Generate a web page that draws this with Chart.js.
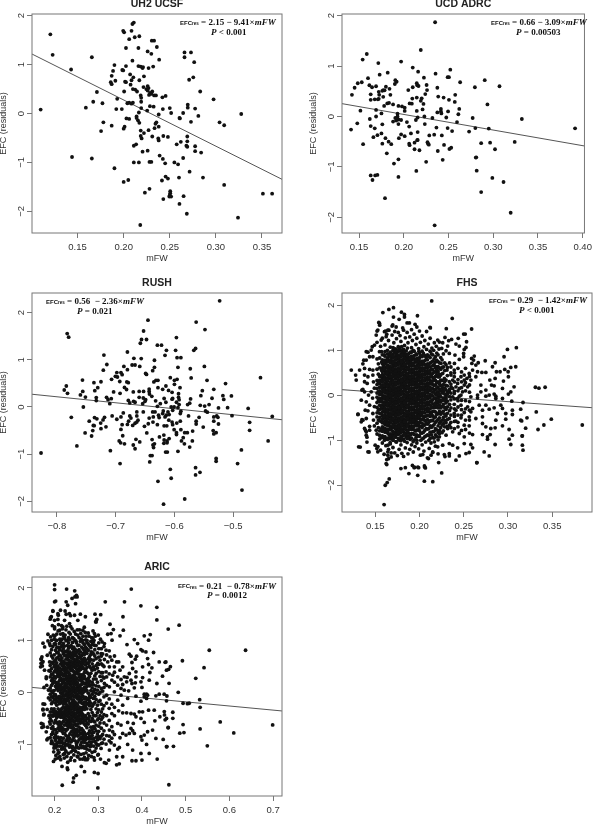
<!DOCTYPE html>
<html>
<head>
<meta charset="utf-8">
<script src="https://cdn.jsdelivr.net/npm/chart.js@4"></script>
<style>
  html, body { margin: 0; padding: 0; background: #fff; }
  #page { position: relative; width: 600px; height: 825px; overflow: hidden; }
  canvas { position: absolute; }
</style>
</head>
<body>
<div id="page"></div>
<script>
// values, [mFW, EFC residual]
const uh2Points = [[.1205,1.62],[.123,1.2],[.11,.08],[.143,.9],[.1655,1.15],[.171,.44],[.167,.24],[.159,.12],[.177,.21],[.178,-.18],[.1755,-.36],[.187,-.25],[.144,-.89],[.1655,-.92],[.19,-1.12],[.2,-1.4],[.205,-1.36],[.1995,1.69],[.2005,1.66],[.2085,1.69],[.2095,1.83],[.211,1.86],[.206,1.52],[.212,1.56],[.217,1.58],[.2025,1.34],[.216,1.34],[.2305,1.49],[.233,1.49],[.236,1.36],[.226,1.27],[.23,1.22],[.2385,1.1],[.2095,1.08],[.19,.99],[.2025,.97],[.1885,.87],[.1985,.89],[.1995,.88],[.216,.97],[.2185,.96],[.2205,.93],[.221,.95],[.227,.93],[.232,.96],[.207,.8],[.2105,.74],[.187,.77],[.2085,.68],[.217,.68],[.222,.76],[.191,.67],[.2015,.65],[.2025,.64],[.186,.64],[.187,.6],[.2075,.59],[.2005,.45],[.21,.5],[.2125,.49],[.2145,.45],[.2215,.54],[.226,.56],[.227,.52],[.2245,.5],[.226,.47],[.231,.45],[.2285,.42],[.2275,.38],[.23,.4],[.233,.37],[.235,.37],[.2185,.37],[.219,.32],[.219,.24],[.242,.33],[.2455,.36],[.193,.3],[.204,.21],[.206,.22],[.21,.22],[.2085,.2],[.198,.09],[.192,.09],[.219,.11],[.2285,.15],[.2325,.14],[.2255,.06],[.2165,.02],[.2425,.09],[.25,.11],[.2515,.01],[.238,-.02],[.214,-.06],[.203,-.1],[.206,-.11],[.214,-.09],[.2155,-.14],[.217,-.19],[.2355,-.18],[.2345,-.21],[.2335,-.3],[.238,-.27],[.201,-.27],[.2,-.31],[.2185,-.35],[.227,-.34],[.222,-.4],[.2185,-.46],[.2195,-.51],[.231,-.47],[.2375,-.51],[.238,-.55],[.243,-.46],[.248,-.48],[.211,-.66],[.2135,-.63],[.226,-.76],[.2205,-.78],[.211,-1],[.2165,-1],[.228,-.99],[.23,-.99],[.239,-.86],[.2425,-.93],[.245,-1.02],[.255,-1],[.259,-1.04],[.2415,-1.37],[.2455,-1.29],[.248,-1.33],[.26,-1.31],[.2715,-1.19],[.286,-1.31],[.2645,-.91],[.284,-.8],[.2775,-.77],[.2775,-.67],[.268,-.66],[.269,-.68],[.269,-.57],[.269,-.47],[.262,-.58],[.2575,-.63],[.228,-1.54],[.223,-1.62],[.243,-1.75],[.2505,-1.59],[.2505,-1.63],[.25,-1.67],[.2515,-1.7],[.2495,-1.7],[.265,-1.69],[.2605,-1.85],[.2685,-2.05],[.218,-2.28],[.324,-2.13],[.309,-1.46],[.351,-1.64],[.361,-1.64],[.309,-.24],[.304,-.18],[.3275,-.01],[.2975,.29],[.283,.45],[.281,-.05],[.2775,.1],[.2695,.12],[.2695,.18],[.2645,.01],[.2605,-.09],[.261,-.1],[.273,-.17],[.271,.69],[.2755,.74],[.2765,1.05],[.273,1.25],[.266,1.25],[.266,1.15]];

const ucdPoints = [[.235,1.87],[.219,1.32],[.1586,1.24],[.154,1.13],[.1715,1.06],[.197,1.09],[.21,.97],[.216,.89],[.2355,.85],[.252,.93],[.173,.83],[.182,.87],[.16,.76],[.2225,.77],[.249,.78],[.2505,.78],[.263,.68],[.2905,.72],[.307,.6],[.2795,.58],[.153,.68],[.1485,.66],[.145,.57],[.142,.43],[.1905,.72],[.192,.69],[.19,.645],[.1615,.62],[.1645,.58],[.169,.6],[.18,.59],[.184,.55],[.177,.525],[.176,.51],[.1785,.52],[.172,.49],[.163,.44],[.1725,.43],[.177,.39],[.185,.43],[.1675,.34],[.163,.33],[.171,.34],[.172,.35],[.178,.21],[.1815,.26],[.1835,.27],[.188,.24],[.194,.21],[.198,.2],[.201,.175],[.201,.11],[.1515,.115],[.169,.13],[.175,.06],[.193,.055],[.169,0],[.162,-.05],[.193,0],[.1905,-.03],[.194,-.06],[.197,-.07],[.188,-.1],[.1915,-.08],[.148,-.135],[.141,-.26],[.163,-.19],[.1675,-.235],[.176,-.155],[.194,-.15],[.2035,-.11],[.206,-.2],[.2135,-.07],[.2155,-.02],[.223,0],[.2235,-.15],[.232,-.03],[.2365,-.22],[.249,-.23],[.254,-.29],[.2595,-.11],[.277,-.03],[.273,-.3],[.28,-.23],[.295,-.24],[.332,-.05],[.3915,-.235],[.175,-.335],[.1705,-.37],[.166,-.41],[.1795,-.43],[.1945,-.43],[.197,-.355],[.201,-.39],[.208,-.335],[.2155,-.31],[.2155,-.465],[.2285,-.375],[.234,-.36],[.2425,-.375],[.1545,-.55],[.176,-.54],[.183,-.5],[.186,-.55],[.206,-.54],[.2065,-.57],[.212,-.52],[.215,-.47],[.2265,-.51],[.227,-.54],[.228,-.56],[.245,-.565],[.212,-.65],[.2175,-.67],[.238,-.685],[.251,-.645],[.253,-.62],[.2865,-.53],[.2965,-.52],[.324,-.505],[.302,-.65],[.181,-.73],[.189,-.935],[.194,-.85],[.225,-.9],[.2435,-.86],[.281,-.81],[.2805,-.815],[.214,-1.08],[.2815,-1.075],[.163,-1.17],[.168,-1.17],[.1705,-1.16],[.165,-1.26],[.194,-1.2],[.299,-1.22],[.3115,-1.3],[.2865,-1.5],[.179,-1.62],[.3195,-1.91],[.2345,-2.16],[.205,.525],[.21,.58],[.2145,.66],[.215,.62],[.2165,.605],[.2255,.625],[.226,.525],[.224,.445],[.2095,.355],[.2145,.375],[.22,.36],[.219,.31],[.222,.25],[.2065,.26],[.209,.255],[.221,.14],[.2145,.11],[.2375,.57],[.2385,.395],[.2445,.375],[.2505,.33],[.2575,.43],[.257,.29],[.262,.15],[.261,.045],[.2495,.1],[.2415,.15],[.2415,.1],[.2375,.08],[.242,.06],[.2475,-.02],[.2935,.24]];

const rushPoints = [[-.523,2.25],[-.563,1.8],[-.548,1.64],[-.645,1.84],[-.6525,1.61],[-.7825,1.555],[-.78,1.48],[-.6475,1.43],[-.656,1.43],[-.658,1.35],[-.5966,1.47],[-.629,1.31],[-.622,1.31],[-.6136,1.2],[-.598,1.2],[-.616,1.095],[-.5955,1.045],[-.589,1.045],[-.564,1.24],[-.567,1.2],[-.68,1.165],[-.72,1.1],[-.715,.9],[-.721,.78],[-.669,1.03],[-.6565,1.025],[-.634,.99],[-.667,.89],[-.672,.89],[-.659,.86],[-.686,.86],[-.68,.79],[-.634,.84],[-.637,.77],[-.594,.84],[-.549,.86],[-.573,.81],[-.698,.73],[-.689,.685],[-.691,.73],[-.7005,.65],[-.697,.635],[-.649,.71],[-.6475,.69],[-.707,.585],[-.693,.54],[-.681,.53],[-.6785,.515],[-.7565,.57],[-.737,.515],[-.725,.535],[-.6315,.565],[-.628,.565],[-.635,.53],[-.607,.62],[-.6,.565],[-.5955,.585],[-.6,.48],[-.5715,.615],[-.5445,.565],[-.513,.495],[-.4535,.62],[-.784,.445],[-.7875,.36],[-.782,.29],[-.756,.33],[-.76,.255],[-.7515,.21],[-.755,0],[-.7305,.41],[-.7355,.345],[-.7035,.32],[-.685,.415],[-.6815,.37],[-.6925,.29],[-.67,.32],[-.66,.33],[-.6525,.33],[-.643,.38],[-.643,.33],[-.6425,.275],[-.6385,.225],[-.628,.41],[-.62,.375],[-.6145,.445],[-.61,.35],[-.604,.31],[-.5905,.41],[-.593,.28],[-.5525,.345],[-.555,.24],[-.533,.375],[-.536,.185],[-.5175,.24],[-.516,.16],[-.503,.235],[-.733,.2],[-.733,.135],[-.7155,.205],[-.713,.155],[-.7075,.175],[-.71,.07],[-.6785,.14],[-.676,.085],[-.6695,.12],[-.667,.1],[-.66,.205],[-.653,.19],[-.649,.155],[-.654,.07],[-.65,.12],[-.632,.13],[-.629,.015],[-.6175,.18],[-.624,.07],[-.6145,.1],[-.604,.165],[-.603,.18],[-.593,.205],[-.592,.155],[-.5965,.1],[-.592,.05],[-.5725,.17],[-.574,.08],[-.5775,.05],[-.556,.035],[-.5485,.02],[-.541,.05],[-.547,-.085],[-.544,-.11],[-.525,-.02],[-.5095,-.015],[-.4745,-.03],[-.4335,-.2],[-.7755,-.22],[-.736,-.225],[-.732,-.25],[-.745,-.3],[-.719,-.22],[-.7215,-.275],[-.7255,-.34],[-.738,-.39],[-.7365,-.395],[-.752,-.55],[-.739,-.5],[-.7165,-.42],[-.725,-.46],[-.741,-.615],[-.766,-.825],[-.827,-.975],[-.706,-.19],[-.698,-.26],[-.691,-.21],[-.687,-.125],[-.689,-.375],[-.691,-.475],[-.688,-.61],[-.694,-.72],[-.6915,-.76],[-.685,-.78],[-.709,-.925],[-.6925,-1.2],[-.676,-.19],[-.674,-.235],[-.678,-.3],[-.68,-.37],[-.664,-.105],[-.664,-.19],[-.662,-.28],[-.667,-.345],[-.671,-.39],[-.664,-.32],[-.653,-.105],[-.651,-.41],[-.647,-.55],[-.67,-.805],[-.6655,-.685],[-.667,-.885],[-.659,-.74],[-.637,-.105],[-.633,-.105],[-.636,-.21],[-.643,-.235],[-.6365,-.32],[-.6445,-.355],[-.629,-.375],[-.627,-.175],[-.62,-.14],[-.619,-.085],[-.614,-.175],[-.611,-.105],[-.609,-.16],[-.603,-.07],[-.6005,0],[-.6055,0],[-.594,-.015],[-.589,-.09],[-.59,-.14],[-.616,-.21],[-.626,-.225],[-.6095,-.28],[-.604,-.32],[-.6175,-.4],[-.613,-.4],[-.603,-.375],[-.596,-.34],[-.59,-.3],[-.6005,-.48],[-.5965,-.545],[-.5965,-.585],[-.589,-.48],[-.5825,-.545],[-.578,-.545],[-.576,-.19],[-.558,-.22],[-.563,-.3],[-.563,-.36],[-.551,-.425],[-.569,-.51],[-.534,-.5],[-.529,-.545],[-.533,-.57],[-.533,-.21],[-.528,-.19],[-.526,-.22],[-.533,-.3],[-.525,-.36],[-.502,-.185],[-.472,-.325],[-.472,-.495],[-.4405,-.72],[-.6255,-.635],[-.618,-.595],[-.6175,-.7],[-.6125,-.72],[-.609,-.67],[-.618,-.77],[-.6125,-.76],[-.638,-.69],[-.634,-.78],[-.6365,-.805],[-.6355,-.86],[-.615,-.955],[-.612,-.955],[-.594,-.94],[-.585,-.65],[-.588,-.72],[-.583,-.78],[-.574,-.85],[-.5695,-.72],[-.641,-1.03],[-.638,-1.03],[-.642,-1.165],[-.486,-.91],[-.529,-1.09],[-.529,-1.15],[-.4925,-1.2],[-.564,-1.285],[-.5565,-1.385],[-.564,-1.44],[-.607,-1.32],[-.6055,-1.51],[-.628,-1.575],[-.485,-1.76],[-.5825,-1.95],[-.6185,-2.06]];

// FHS: far points
const fhsPoints = [[.2138,2.1],[.1706,1.95],[.1654,1.91],[.1586,1.84],[.1796,1.85],[.183,1.8],[.183,1.74],[.1977,1.77],[.237,1.71],[.1706,1.74],[.154,1.62],[.155,1.56],[.177,1.69],[.169,1.54],[.1736,1.52],[.186,1.61],[.1886,1.61],[.195,1.58],[.197,1.52],[.2123,1.5],[.152,1.43],[.1616,1.43],[.1654,1.45],[.176,1.4],[.182,1.45],[.191,1.46],[.2,1.43],[.208,1.42],[.1466,1.08],[.1417,.96],[.137,.78],[.136,.7],[.136,.13],[.1305,-.42],[.135,-.54],[.133,-1.15],[.139,-.78],[.143,-1.26],[.1406,-1.04],[.1406,-.93],[.1436,-.69],[.331,.18],[.335,.16],[.342,.18],[.317,-.16],[.332,-.37],[.3215,-.5],[.3155,-.57],[.32,-.73],[.334,-.76],[.3406,-.66],[.349,-.53],[.384,-.66],[.316,-.905],[.2648,-1.5],[.2055,-1.91],[.215,-1.92],[.198,-1.78],[.188,-1.74],[.179,-1.63],[.184,-1.61],[.192,-1.56],[.194,-1.61],[.199,-1.61],[.206,-1.6],[.16,-2.43],[.1613,-2],[.1635,-1.94],[.1658,-1.86],[.163,-1.54],[.165,-1.41],[.168,-1.28]];

// FHS: right side of the cloud
const fhsRight = [[.2119,1.512],[.2303,1.482],[.2589,1.475],[.2499,1.363],[.2517,1.363],[.2288,1.289],[.2206,1.23],[.2168,1.17],[.2225,1.185],[.2262,1.17],[.233,1.215],[.2363,1.244],[.2438,1.267],[.2318,1.096],[.2412,1.14],[.245,1.096],[.2532,1.192],[.2525,1.066],[.2506,1.022],[.2251,1.044],[.23,.992],[.2337,.933],[.2401,.895],[.2499,.933],[.2499,.858],[.245,.799],[.2619,.873],[.2589,.821],[.2611,.784],[.2664,.725],[.2743,.769],[.2592,.71],[.2637,.673],[.2855,.725],[.2825,.636],[.3095,1.059],[.2994,1.022],[.2956,.858],[.3088,.636],[.3032,.621],[.2964,.576],[.2911,.524],[.287,.524],[.275,.51],[.2705,.51],[.2656,.524],[.26,.561],[.2562,.487],[.2506,.45],[.2393,.561],[.2356,.45],[.2311,.561],[.2243,.71],[.2187,.636],[.23,.339],[.2375,.339],[.2431,.264],[.2506,.227],[.2544,.19],[.245,.153],[.2356,.19],[.2262,.153],[.2318,.079],[.2487,.079],[.2581,.339],[.2637,.413],[.2694,.227],[.2795,.339],[.2855,.376],[.2949,.316],[.3002,.524],[.3005,.413],[.2844,.212],[.2814,.227],[.2938,.153],[.3069,.19],[.3032,.079],[.3005,.027],[.2844,.027],[.275,.116],[.2694,.079],[.2656,.005],[.2788,.005],[.2863,-.07],[.2938,-.07],[.2581,-.033],[.2431,-.07],[.23,-.07],[.2375,-.033],[.245,-.018],[.2656,-.055],[.275,-.018],[.2863,-.018],[.3043,-.129],[.2919,-.218],[.2844,-.278],[.2938,-.292],[.275,-.218],[.2675,-.218],[.26,-.292],[.2544,-.255],[.2469,-.218],[.2393,-.2],[.2412,-.33],[.2506,-.382],[.2581,-.367],[.2712,-.33],[.2788,-.307],[.2881,-.404],[.2975,-.404],[.305,-.33],[.3144,-.307],[.305,-.426],[.2975,-.53],[.2863,-.552],[.2712,-.478],[.2637,-.515],[.2562,-.478],[.2469,-.5],[.2393,-.404],[.2337,-.515],[.2412,-.575],[.2506,-.664],[.2562,-.679],[.2712,-.627],[.275,-.701],[.2806,-.738],[.2855,-.723],[.2938,-.679],[.3013,-.76],[.3144,-.552],[.3163,-.9],[.305,-.886],[.3013,-.976],[.3032,-1.094],[.2855,-1.094],[.2712,-.872],[.2769,-.924],[.2799,-.872],[.2769,-.976],[.26,-.872],[.2506,-.924],[.245,-.849],[.2375,-.812],[.2318,-.738],[.23,-.886],[.2225,-.924],[.2168,-1.035],[.2262,-1.109],[.2337,-1.072],[.2375,-1.109],[.2431,-1.168],[.2506,-1.072],[.2581,-1.094],[.26,-1.168],[.2562,-1.272],[.2525,-1.295],[.245,-1.347],[.2412,-1.443],[.2337,-1.295],[.2337,-1.347],[.2281,-1.317],[.2288,-1.362],[.2206,-1.146],[.2149,-1.258],[.2131,-1.332],[.2101,-1.406],[.2037,-1.317],[.2731,-1.258],[.2788,-1.347],[.2649,-1.495],[.2217,-1.495],[.3163,-1.109],[.317,-1.22],[.2056,-1.57],[.2067,-1.614],[.1981,-1.6],[.2251,-1.725],[.1943,-1.6],[.2225,.413],[.2262,.487],[.2281,.376],[.2337,.302],[.2393,.413],[.2412,.19],[.2337,.079],[.2225,.264],[.2206,.079],[.2393,.042],[.2506,.339],[.2536,.376],[.2469,.413],[.2469,.005],[.2375,.153]];

// FHS: left side of the cloud
const fhsLeft = [[.1229,.561],[.1278,.45],[.1323,.561],[.1379,.599],[.1436,.576],[.1473,.561],[.1285,.339],[.1379,.45],[.1417,.413],[.1473,.45],[.1379,.302],[.1409,.264],[.1349,.116],[.1379,.079],[.1342,-.107],[.1398,-.144],[.1424,.005],[.1454,.079],[.1436,-.218],[.1387,-.33],[.1417,-.344],[.1304,-.426],[.1398,-.515],[.136,-.552],[.1342,-.589],[.1473,-.404],[.1379,-.738],[.1436,-.775],[.1398,-.886],[.1312,-1.146],[.1417,-1.257],[.1499,-1.109],[.1518,-1.183],[.1529,-1.257],[.1398,-.812],[.1511,-.775],[.1548,-.886],[.1604,-.997],[.1642,-1.257],[.1642,-1.332],[.1623,-1.517],[.1642,-1.109],[.1436,.858],[.1398,.97],[.1398,.784],[.1454,1.007],[.1511,1.341],[.1548,1.6],[.1529,1.452],[.1604,1.415],[.1642,1.452],[.1698,1.564],[.1492,1.118],[.1567,1.229],[.1623,1.304],[.1548,.97],[.1473,.858],[.148,.3],[.149,.16],[.147,-.06],[.149,-.25],[.148,-.55],[.149,-.68]];

// FHS: top and bottom rim of the cloud
const fhsRim = [[.152,1.18],[.156,1.09],[.158,1.27],[.161,1.12],[.163,1.36],[.165,1.22],[.167,1.07],[.169,1.34],[.171,1.17],[.172,1.42],[.174,1.26],[.176,1.08],[.178,1.33],[.179,1.2],[.181,1.5],[.183,1.11],[.184,1.28],[.186,1.4],[.187,1.17],[.189,1.3],[.191,1.06],[.192,1.22],[.194,1.36],[.196,1.13],[.197,1.27],[.199,1.04],[.201,1.18],[.203,1.32],[.205,1.08],[.206,1.22],[.208,1.02],[.21,1.14],[.212,1.27],[.214,1.05],[.216,1],[.219,1.09],[.222,1.03],[.153,-1.14],[.156,-1.22],[.158,-1.06],[.16,-1.31],[.162,-1.12],[.163,-1.43],[.165,-1.2],[.167,-1.08],[.168,-1.37],[.17,-1.16],[.172,-1.28],[.174,-1.04],[.175,-1.34],[.177,-1.2],[.179,-1.1],[.18,-1.29],[.182,-1.36],[.184,-1.17],[.186,-1.05],[.187,-1.3],[.189,-1.2],[.191,-1.1],[.193,-1.26],[.195,-1.14],[.197,-1.06],[.199,-1.19],[.201,-1.33],[.203,-1.1],[.205,-1.24],[.207,-1.04],[.209,-1.39],[.211,-1.18],[.213,-1.06],[.215,-1.27],[.218,-1.13],[.221,-1.3]];

// FHS middle of the cloud, as [mFW, [residuals at about that mFW]]
const fhsColumns = [
[.152,[.81,.58,.33,.24,.15,.05,-.04,-.16,-.27,-.39,-.48,-.62,-.86]],
[.155,[.83,.61,.42,.34,.26,.18,.1,.02,-.06,-.14,-.22,-.31,-.4,-.49,-.57,-.79,-.97]],
[.158,[.9,.79,.7,.61,.53,.46,.38,.3,.23,.15,.08,0,-.07,-.15,-.22,-.3,-.37,-.45,-.53,-.61,-.7,-.8,-.9]],
[.1595,[.66,.42,.19,-.04,-.26,-.49,-.74]],
[.161,[.97,.87,.78,.7,.62,.55,.48,.41,.34,.27,.2,.13,.06,-.01,-.08,-.15,-.22,-.29,-.36,-.43,-.5,-.57,-.65,-.73,-.82,-.92]],
[.1625,[.74,.51,.3,.09,-.12,-.33,-.54,-.77]],
[.164,[.92,.83,.75,.67,.6,.53,.46,.39,.32,.25,.18,.11,.04,-.03,-.1,-.17,-.24,-.31,-.38,-.45,-.52,-.59,-.67,-.75,-.84,-.95]],
[.1655,[.88,.63,.43,.22,.01,-.2,-.41,-.63,-.87]],
[.167,[.96,.87,.79,.72,.65,.58,.51,.44,.37,.3,.23,.16,.09,.02,-.05,-.12,-.19,-.26,-.33,-.4,-.47,-.54,-.61,-.69,-.77,-.86,-.97]],
[.1685,[.84,.59,.35,.12,-.09,-.31,-.51,-.73,-.93]],
[.170,[1,.91,.83,.76,.69,.62,.55,.48,.41,.34,.27,.2,.13,.06,-.01,-.08,-.15,-.22,-.29,-.36,-.43,-.5,-.57,-.64,-.72,-.8,-.89,-1]],
[.1715,[.95,.68,.45,.24,.03,-.18,-.39,-.61,-.84]],
[.173,[1.03,.94,.86,.79,.72,.65,.58,.51,.44,.37,.3,.23,.16,.09,.02,-.05,-.12,-.19,-.26,-.33,-.4,-.47,-.54,-.61,-.68,-.75,-.83,-.93]],
[.1745,[.91,.7,.49,.28,.07,-.14,-.35,-.56,-.78]],
[.176,[.97,.89,.82,.75,.68,.61,.54,.47,.4,.33,.26,.19,.12,.05,-.02,-.09,-.16,-.23,-.3,-.37,-.44,-.51,-.58,-.65,-.72,-.79,-.87,-.96]],
[.1775,[1.04,.77,.52,.31,.1,-.11,-.32,-.53,-.75,-.99]],
[.179,[1,.92,.85,.78,.71,.64,.57,.5,.43,.36,.29,.22,.15,.08,.01,-.06,-.13,-.2,-.27,-.34,-.41,-.48,-.55,-.62,-.69,-.76,-.84,-.92,-1.01]],
[.1805,[.96,.69,.47,.26,.05,-.16,-.37,-.58,-.8]],
[.182,[1.02,.94,.87,.8,.73,.66,.59,.52,.45,.38,.31,.24,.17,.1,.03,-.04,-.11,-.18,-.25,-.32,-.39,-.46,-.53,-.6,-.67,-.74,-.81,-.89,-.98]],
[.1835,[.9,.64,.43,.21,0,-.21,-.42,-.64,-.86]],
[.185,[.99,.91,.84,.77,.7,.63,.56,.49,.42,.35,.28,.21,.14,.07,0,-.07,-.14,-.21,-.28,-.35,-.42,-.49,-.56,-.63,-.7,-.77,-.85,-.93]],
[.1865,[.81,.6,.39,.18,-.03,-.24,-.45,-.66,-.9]],
[.188,[.93,.85,.78,.71,.64,.57,.5,.43,.36,.29,.22,.15,.08,.01,-.06,-.13,-.2,-.27,-.34,-.41,-.48,-.55,-.62,-.69,-.76,-.84,-.92]],
[.1895,[.75,.54,.33,.12,-.09,-.3,-.51,-.72,-.98]],
[.191,[.96,.87,.79,.72,.65,.58,.51,.44,.37,.3,.23,.16,.09,.02,-.05,-.12,-.19,-.26,-.33,-.4,-.47,-.54,-.61,-.68,-.76,-.85,-.95]],
[.1925,[.82,.56,.34,.13,-.08,-.29,-.5,-.71]],
[.194,[.98,.88,.8,.72,.65,.58,.51,.44,.37,.3,.23,.16,.09,.02,-.05,-.12,-.19,-.26,-.33,-.4,-.47,-.54,-.61,-.68,-.77,-.87,-.99]],
[.1955,[.76,.49,.27,.06,-.15,-.36,-.57,-.79]],
[.197,[.9,.82,.74,.66,.59,.52,.45,.38,.31,.24,.17,.1,.03,-.04,-.11,-.18,-.25,-.32,-.39,-.46,-.53,-.6,-.68,-.77,-.88,-1]],
[.1985,[.7,.43,.21,0,-.21,-.42,-.64]],
[.200,[.94,.84,.75,.67,.6,.53,.46,.39,.32,.25,.18,.11,.04,-.03,-.1,-.17,-.24,-.31,-.38,-.45,-.52,-.6,-.69,-.79,-.91]],
[.203,[.98,.86,.76,.68,.61,.54,.47,.4,.33,.26,.19,.12,.05,-.02,-.09,-.16,-.23,-.3,-.37,-.45,-.53,-.62,-.72,-.84,-.97]],
[.206,[.88,.77,.68,.6,.53,.46,.39,.32,.25,.18,.11,.04,-.03,-.1,-.17,-.24,-.31,-.39,-.47,-.56,-.66,-.78,-.92]],
[.209,[.9,.79,.7,.62,.55,.48,.41,.34,.27,.2,.13,.06,-.01,-.08,-.15,-.22,-.29,-.37,-.45,-.54,-.64,-.75,-.88]],
[.212,[.98,.84,.72,.63,.55,.48,.41,.33,.26,.18,.1,.02,-.06,-.14,-.22,-.3,-.38,-.47,-.57,-.68,-.82,-.96]],
[.215,[.9,.76,.66,.57,.49,.4,.32,.24,.15,.07,-.01,-.1,-.19,-.27,-.36,-.46,-.56,-.68,-.81,-.94]],
[.218,[.86,.74,.62,.52,.42,.33,.23,.13,.03,-.07,-.17,-.27,-.37,-.48,-.6,-.74,-.88]],
[.221,[.9,.75,.64,.53,.41,.3,.19,.07,-.05,-.16,-.28,-.41,-.54,-.68,-.83,-.99]],
[.224,[.84,.58,.45,.34,.22,.1,-.03,-.15,-.28,-.42,-.58,-.72]],
[.227,[.92,.63,.24,.09,-.06,-.2,-.35,-.49,-.63,-.79]],
[.230,[.68,.22,.12,-.02,-.17,-.31,-.46,-.61]],
[.234,[.72,.13,-.03,-.2,-.34,-.66]]
];

// FHS: points between the columns above
const fhsFill = [
[.1535,[.7,.47,.28,.08,-.1,-.33,-.55,-.72]],
[.1572,[.97,.74,.56,.44,.32,.2,.04,-.11,-.26,-.41,-.58,-.74,-.94]],
[.1603,[.9,.75,.58,.36,.22,.09,-.05,-.19,-.33,-.47,-.61,-.78,-.95]],
[.1637,[1,.8,.63,.5,.35,.21,.07,-.07,-.2,-.35,-.48,-.63,-.8,-.98]],
[.1668,[.92,.75,.55,.41,.27,.13,-.02,-.16,-.29,-.44,-.57,-.73,-.91,-1.05]],
[.1702,[1.06,.87,.73,.58,.44,.3,.16,.03,-.11,-.25,-.39,-.53,-.67,-.83,-.97]],
[.1733,[.99,.83,.68,.54,.41,.26,.12,-.01,-.15,-.29,-.44,-.58,-.71,-.88,-1.03]],
[.1767,[1.02,.86,.71,.57,.43,.29,.15,.01,-.13,-.27,-.41,-.55,-.69,-.83,-.99]],
[.1798,[1.08,.89,.75,.6,.47,.33,.18,.05,-.09,-.23,-.36,-.51,-.65,-.79,-.94]],
[.1832,[.97,.83,.68,.54,.4,.26,.12,-.02,-.16,-.3,-.44,-.58,-.72,-.87,-1.02]],
[.1863,[1.05,.88,.74,.59,.45,.31,.17,.03,-.1,-.25,-.38,-.52,-.67,-.81,-.96]],
[.1897,[.96,.82,.67,.53,.39,.25,.11,-.03,-.17,-.31,-.46,-.6,-.74,-.88]],
[.1928,[1,.85,.7,.55,.42,.27,.14,0,-.14,-.28,-.42,-.56,-.7,-.85,-1.03]],
[.1962,[.92,.78,.63,.49,.35,.21,.07,-.07,-.21,-.35,-.49,-.63,-.79,-.93]],
[.1993,[.98,.8,.65,.5,.37,.23,.09,-.05,-.19,-.33,-.47,-.62,-.75,-.9]],
[.2015,[.88,.71,.57,.43,.29,.15,.01,-.13,-.27,-.41,-.55,-.69,-.84,-1]],
[.2045,[.93,.74,.6,.46,.32,.18,.04,-.1,-.24,-.38,-.52,-.67,-.82,-.95]],
[.2075,[.84,.66,.52,.38,.24,.1,-.04,-.18,-.32,-.46,-.61,-.74,-.9]],
[.2105,[.87,.69,.53,.39,.25,.11,-.03,-.17,-.31,-.45,-.6,-.74,-.89,-1]],
[.2135,[.92,.74,.58,.43,.29,.14,0,-.13,-.27,-.42,-.56,-.71,-.88]],
[.2165,[.81,.68,.52,.37,.22,.08,-.06,-.21,-.35,-.5,-.65,-.8,-.95]],
[.2195,[.94,.78,.58,.46,.28,.16,.01,-.12,-.23,-.42,-.57,-.77,-.92]],
[.2225,[.72,.61,.47,.28,.14,.02,-.1,-.22,-.36,-.5,-.62,-.78,-.85]],
[.2255,[.79,.62,.33,.19,.05,-.11,-.25,-.38,-.55,-.66,-.83]],
[.2285,[.72,.55,.3,.16,.03,-.12,-.27,-.42,-.56,-.7]],
[.2315,[.62,.44,.21,.03,-.13,-.26,-.4,-.54,-.69]],
[.2355,[.63,.5,.25,.05,-.1,-.28,-.44,-.6,-.72]],
[.2395,[.71,.5,.3,.09,-.08,-.3,-.47,-.58,-.74]],
[.2435,[.6,.35,.1,-.12,-.26,-.44,-.6,-.7]],
[.2475,[.52,.3,.17,-.11,-.32,-.44,-.78]],
[.252,[.6,.28,.1,-.12,-.3,-.55,-.76]],
[.2565,[.42,.23,.07,-.14,-.33,-.55,-.84]]
];

// ARIC: far points and right side of the cloud
const aricPoints = [[.2,2.06],[.2,1.97],[.2275,1.98],[.246,1.945],[.3755,1.98],[.25,1.86],[.2465,1.83],[.2515,1.83],[.24,1.8],[.2025,1.75],[.2,1.735],[.2265,1.735],[.248,1.7],[.23,1.67],[.316,1.735],[.36,1.735],[.3975,1.66],[.434,1.63],[.196,1.565],[.2135,1.575],[.224,1.56],[.234,1.51],[.2365,1.47],[.1925,1.45],[.19,1.405],[.2085,1.48],[.2075,1.4],[.259,1.5],[.2705,1.45],[.2925,1.5],[.3055,1.49],[.2965,1.4],[.294,1.355],[.3565,1.45],[.434,1.39],[.46,1.215],[.485,1.29],[.217,-1.41],[.229,-1.44],[.23,-1.47],[.2175,-1.77],[.2425,-1.71],[.2435,-1.63],[.2495,-1.58],[.261,-1.41],[.2685,-1.51],[.291,-1.525],[.2995,-1.545],[.299,-1.82],[.4615,-1.76],[.342,-1.38],[.348,-1.36],[.318,-1.35],[.2745,-1.28],[.5495,-1.017],[.4865,-.775],[.496,-.763],[.494,-.61],[.533,-.693],[.579,-.56],[.61,-.77],[.699,-.617],[.494,-.203],[.504,-.21],[.508,-.203],[.532,-.134],[.533,-.28],[.483,.006],[.523,.273],[.542,.477],[.4925,.61],[.554,.81],[.637,.81],[.465,.496],[.461,.445],[.453,.58],[.462,.178],[.457,-.064],[.4705,-.375],[.4705,-.49],[.472,-1.025],[.457,-1.03],[.46,-.665],[.453,-.52],[.451,-.362],[.4515,-.426]];
const aricRight = [[.3269,1.307],[.295,1.352],[.3345,1.205],[.3573,1.193],[.3216,1.116],[.3292,1.129],[.3497,1.085],[.4052,1.085],[.4189,1.11],[.4151,1.002],[.3315,1.002],[.3824,1.015],[.39,.938],[.3657,.919],[.2874,1.034],[.2912,1.129],[.3087,.97],[.314,.938],[.2912,.906],[.3011,.843],[.3976,.824],[.4014,.798],[.409,.779],[.4265,.767],[.3064,.747],[.3178,.811],[.2836,.779],[.371,.735],[.3748,.697],[.3877,.697],[.3847,.639],[.377,.576],[.4128,.652],[.3467,.588],[.3421,.588],[.3269,.684],[.3216,.588],[.314,.633],[.4394,.588],[.4546,.588],[.4151,.538],[.4014,.493],[.4227,.474],[.3786,.461],[.4561,.429],[.3497,.429],[.3558,.493],[.3368,.493],[.3254,.493],[.3102,.525],[.2988,.557],[.3862,.398],[.371,.366],[.4181,.385],[.447,.315],[.4014,.289],[.3976,.207],[.3847,.188],[.3596,.302],[.352,.251],[.3657,.29],[.3444,.302],[.333,.334],[.3178,.398],[.4166,.238],[.3862,.302],[.3748,.238],[.3649,.207],[.3558,.156],[.3444,.143],[.4341,.175],[.3999,.099],[.3824,.092],[.377,.175],[.3695,.035],[.352,.08],[.3596,.048],[.3368,.016],[.3254,.111],[.4052,-.029],[.4105,-.029],[.4394,-.029],[.4508,-.029],[.3102,.302],[.314,.175],[.295,.366],[.3862,-.067],[.3976,-.162],[.4128,-.048],[.4105,-.111],[.4052,-.08],[.4318,-.06],[.4561,-.156],[.3672,-.111],[.352,-.048],[.3444,-.143],[.3558,-.239],[.3467,-.347],[.3558,-.385],[.3649,-.385],[.3748,-.398],[.3824,-.41],[.3862,-.461],[.3938,-.366],[.4014,-.366],[.3976,-.493],[.4052,-.569],[.4151,-.334],[.428,-.334],[.4409,-.461],[.4295,-.538],[.4561,-.493],[.4599,-.671],[.3444,-.588],[.352,-.62],[.3672,-.569],[.3801,-.588],[.3748,-.684],[.3786,-.728],[.3824,-.779],[.371,-.779],[.3634,-.811],[.3558,-.779],[.3497,-.862],[.333,-.747],[.3254,-.716],[.4242,-.716],[.4128,-.747],[.4052,-.811],[.3976,-.843],[.3999,-.906],[.4318,-.875],[.4485,-.894],[.4561,-1.034],[.4105,-.989],[.3786,-1.097],[.3672,-.989],[.3292,-.957],[.3178,-.983],[.3482,-1.046],[.3444,-1.078],[.3421,-1.225],[.3558,-1.225],[.3976,-1.161],[.4166,-1.161],[.3239,-1.288],[.314,-1.339],[.3771,-1.301],[.3862,-1.301],[.3999,-1.288],[.4348,-1.269],[.3368,-1.002],[.3254,-1.097],[.2912,-1.288],[.2988,-1.193],[.3064,-1.066]];
const aricLeft = [[.1962,1.555],[.2076,1.51],[.1909,1.434],[.2,1.383],[.2266,1.498],[.2456,1.479],[.2,1.256],[.2114,1.192],[.219,1.129],[.1848,1.116],[.1909,1.065],[.1848,.989],[.1886,.938],[.1772,.874],[.2015,.938],[.1696,.652],[.1711,.569],[.1681,.493],[.1886,.588],[.1833,.715],[.181,.302],[.1757,.098],[.1863,.047],[.1772,-.22],[.1734,-.315],[.1757,-.411],[.1696,-.589],[.1711,-.665],[.1886,-.557],[.1848,-.875],[.1924,-.971],[.2,-1.034],[.2076,-1.098],[.181,-.748],[.1962,-.78],[.2114,-.939],[.2228,-1.161],[.2304,-1.002],[.238,-1.13],[.2532,-1.225],[.2684,-1.238],[.2342,1.32],[.2532,1.383],[.2646,1.192],[.2228,1.383],[.219,1.256],[.1735,.945],[.171,.685],[.169,.635],[.1735,.59],[.169,.56],[.172,.51],[.177,.43],[.181,.27],[.1735,-.215],[.1735,-.33],[.175,-.425],[.1735,-.6],[.175,-.65],[.1825,-.9],[.1985,-1.06],[.1975,-1.315],[.2015,-1.27],[.2075,-1.25],[.187,.42],[.182,.14],[.186,-.1],[.183,-.32],[.187,-.44],[.184,-.66]];
const aricRim = [[.205,1.12],[.212,1.02],[.216,1.28],[.221,1.08],[.226,1.2],[.229,1],[.233,1.15],[.237,1.26],[.241,1.05],[.245,1.17],[.249,.98],[.253,1.1],[.257,1.2],[.261,1.02],[.265,1.08],[.27,1.15],[.274,1],[.279,1.08],[.283,.98],[.288,1.18],[.293,1.08],[.3,1.1],[.305,1.02],[.197,1.1],[.2,1.22],[.195,1.28],[.209,1.3],[.198,-1.13],[.203,-1.2],[.206,-1.02],[.21,-1.14],[.214,-1.28],[.218,-1.05],[.222,-1.25],[.226,-1.12],[.23,-1.33],[.234,-1.04],[.238,-1.24],[.242,-1.1],[.246,-1.3],[.25,-1.02],[.254,-1.15],[.258,-1.27],[.262,-1.05],[.266,-1.17],[.27,-1.28],[.274,-1.08],[.278,-1.2],[.282,-1.03],[.286,-1.14],[.29,-1.24],[.295,-1.06],[.3,-1.18],[.305,-1.27],[.2,1.08],[.203,1],[.208,1.18],[.214,1.12],[.218,1.22],[.224,1.1],[.228,1.27],[.232,1.05],[.236,1.12],[.24,1.22],[.244,1.03],[.248,1.12],[.252,1.2],[.256,1.05],[.26,1.13],[.264,1],[.268,1.25],[.272,1.08],[.277,1.14],[.285,1.05],[.29,1],[.202,-1.05],[.208,-1.16],[.212,-1.22],[.216,-1.08],[.22,-1.18],[.224,-1.02],[.228,-1.22],[.232,-1.16],[.236,-1.29],[.24,-1.05],[.244,-1.19],[.248,-1.12],[.252,-1.22],[.256,-1.06],[.26,-1.18],[.264,-1.27],[.268,-1.06],[.272,-1.15],[.276,-1.26],[.28,-1.1],[.284,-1.22],[.292,-1.12],[.297,-1]];

// ARIC middle of the cloud, [mFW, [residuals]]
const aricColumns = [
[.190,[.9,.76,.52,.41,.3,.09,-.03,-.14,-.37,-.49,-.6,-.86]],
[.193,[1,.82,.7,.58,.46,.35,.23,.14,.03,-.08,-.21,-.31,-.43,-.54,-.68,-.8,-.92]],
[.196,[.88,.66,.56,.36,.27,.18,0,-.09,-.18,-.36,-.45,-.65,-.75,-.96]],
[.199,[1.02,.93,.72,.6,.5,.4,.31,.22,.04,-.05,-.14,-.31,-.4,-.58,-.7,-.86,-1]],
[.202,[.92,.81,.62,.53,.44,.28,.2,.12,-.04,-.12,-.2,-.36,-.44,-.53,-.71,-.81,-.91]],
[.205,[1,.86,.76,.66,.57,.48,.39,.31,.16,.08,-.08,-.16,-.24,-.4,-.48,-.57,-.76,-.86,-.97]],
[.208,[.87,.77,.68,.51,.43,.35,.19,.11,.04,-.1,-.17,-.31,-.38,-.45,-.6,-.68,-.85,-.95]],
[.211,[.94,.82,.72,.63,.47,.39,.3,.23,.15,.07,-.07,-.14,-.21,-.35,-.42,-.56,-.64,-.72,-.9,-1.02]],
[.214,[.97,.87,.7,.62,.55,.41,.34,.27,.13,.06,0,-.12,-.19,-.33,-.4,-.47,-.61,-.69,-.86,-.96]],
[.217,[1.02,.9,.8,.66,.58,.51,.44,.37,.23,.17,.1,-.03,-.09,-.16,-.3,-.37,-.44,-.58,-.66,-.74,-.92,-1.03]],
[.220,[.94,.84,.75,.6,.53,.46,.32,.26,.2,.08,.02,-.04,-.16,-.22,-.28,-.41,-.48,-.55,-.7,-.78,-.87,-.97]],
[.223,[1.04,.89,.78,.71,.56,.49,.42,.36,.24,.18,.12,.06,-.06,-.12,-.18,-.3,-.36,-.43,-.5,-.62,-.7,-.78,-.97,-1.08]],
[.226,[.99,.79,.71,.64,.57,.45,.39,.33,.27,.15,.09,.03,-.03,-.15,-.21,-.27,-.33,-.39,-.45,-.51,-.58,-.73,-.82,-.92]],
[.229,[.9,.8,.72,.66,.53,.47,.41,.29,.23,.17,.11,-.01,-.07,-.13,-.25,-.31,-.37,-.43,-.56,-.63,-.7,-.88,-.99]],
[.232,[.95,.85,.76,.69,.62,.56,.5,.38,.32,.26,.2,.08,.02,-.04,-.1,-.16,-.28,-.34,-.4,-.46,-.52,-.59,-.66,-.83,-.93]],
[.235,[1.01,.88,.78,.71,.57,.51,.45,.35,.27,.21,.15,.03,-.03,-.09,-.21,-.27,-.33,-.39,-.51,-.57,-.63,-.79,-.88,-1]],
[.238,[.9,.73,.66,.6,.54,.48,.42,.3,.24,.18,.12,.06,0,-.06,-.12,-.24,-.3,-.36,-.42,-.48,-.54,-.6,-.67,-.75,-.94]],
[.241,[.96,.84,.75,.68,.55,.49,.43,.31,.25,.19,.07,.01,-.05,-.17,-.23,-.29,-.41,-.47,-.53,-.66,-.73,-.81,-.91,-1.03]],
[.244,[.87,.79,.71,.64,.58,.52,.4,.34,.28,.22,.16,.1,.04,-.08,-.14,-.2,-.26,-.32,-.38,-.44,-.56,-.62,-.69,-.77,-.86]],
[.247,[1,.83,.74,.61,.54,.48,.36,.3,.24,.18,.06,0,-.06,-.18,-.24,-.3,-.42,-.48,-.54,-.6,-.74,-.82,-.92,-1.06]],
[.250,[.95,.77,.7,.63,.57,.51,.45,.39,.27,.21,.15,.09,.03,-.03,-.09,-.21,-.27,-.33,-.39,-.45,-.51,-.63,-.7,-.78,-.97]],
[.253,[.9,.8,.66,.6,.54,.42,.36,.18,.12,.06,-.06,-.12,-.24,-.3,-.36,-.48,-.54,-.6,-.74,-.83,-.94,-1.05]],
[.256,[.91,.82,.74,.67,.6,.48,.42,.36,.3,.24,.12,.06,0,-.06,-.12,-.18,-.3,-.36,-.42,-.48,-.54,-.66,-.73,-.81,-.9]],
[.259,[.98,.78,.69,.56,.5,.44,.32,.26,.14,.08,.02,-.1,-.16,-.28,-.34,-.4,-.52,-.58,-.7,-.78,-.88,-1]],
[.262,[.87,.71,.64,.58,.52,.46,.34,.28,.22,.16,.04,-.02,-.08,-.14,-.2,-.32,-.38,-.44,-.5,-.56,-.69,-.77,-.85,-.95]],
[.265,[.95,.84,.75,.62,.55,.48,.34,.27,.2,.07,0,-.07,-.21,-.28,-.42,-.49,-.57,-.72,-.8,-.9,-1.02]],
[.268,[.92,.81,.73,.66,.59,.45,.38,.31,.17,.1,.03,-.11,-.18,-.25,-.32,-.46,-.53,-.6,-.76,-.85,-.95]],
[.271,[1.01,.87,.78,.62,.53,.44,.26,.17,.08,-.09,-.18,-.27,-.44,-.53,-.63,-.8,-.9,-1.03]],
[.274,[.96,.84,.75,.57,.48,.39,.21,.12,.04,-.13,-.22,-.31,-.49,-.58,-.67,-.86,-.97]],
[.277,[.93,.81,.65,.55,.36,.27,.18,-.01,-.11,-.2,-.4,-.5,-.6,-.78,-.88,-1.01]],
[.280,[.9,.69,.6,.5,.31,.22,.13,-.06,-.16,-.25,-.45,-.54,-.73,-.83,-.94]],
[.283,[.86,.73,.63,.47,.37,.15,.04,-.09,-.2,-.32,-.55,-.66,-.77,-.88,-.99]],
[.286,[.92,.77,.55,.43,.2,.09,-.03,-.26,-.38,-.49,-.71,-.82,-.94]],
[.289,[.97,.74,.62,.49,.26,.15,.02,-.11,-.22,-.43,-.54,-.65,-.76,-.88,-1.02]],
[.292,[.82,.7,.44,.32,.06,-.07,-.19,-.44,-.56,-.68,-.93]],
[.295,[.9,.65,.52,.26,.13,-.01,-.13,-.31,-.44,-.62,-.73,-.85,-.97]],
[.298,[.76,.47,.2,.05,-.24,-.38,-.52,-.79,-.9]],
[.301,[.95,.68,.54,.4,.12,-.03,-.17,-.33,-.49,-.64,-.74,-.84,-1]],
[.304,[.62,.31,.01,-.15,-.44,-.58,-.88]],
[.307,[.84,.7,.55,.38,.23,.08,-.22,-.37,-.51,-.68,-.83,-.97]],
[.310,[.74,.38,.03,-.31,-.47,-.8,-.96]],
[.313,[.88,.5,.28,.1,-.08,-.25,-.42,-.58,-.73,-.89]],
[.319,[.72,.3,.14,-.05,-.2,-.44,-.62,-.82]],
[.325,[.8,.36,-.12,-.3,-.53,-.83,-.92]],
[.331,[.62,.24,-.22,-.4,-.65,-.87]],
[.337,[.7,.39,.2,-.28,-.44,-.8]]
];

// fitted lines, as end points read at the frame edges
const uh2Line = [[.1006,1.216],[.3717,-1.346]];
const ucdLine = [[.1309,.255],[.402,-.585]];
const rushLine = [[-.8424,.27],[-.4169,-.27]];
const fhsLine = [[.1124,.126],[.395,-.275]];
const aricLine = [[.1483,.1],[.7204,-.35]];

const uh2XTicks = [.15,.2,.25,.3,.35];
const ucdXTicks = [.15,.2,.25,.3,.35,.4];
const rushXTicks = [-.8,-.7,-.6,-.5];
const fhsXTicks = [.15,.2,.25,.3,.35];
const aricXTicks = [.2,.3,.4,.5,.6,.7];
const yTicks2 = [-2,-1,0,1,2];
const yTicks1 = [-1,0,1,2];

function fromColumns(columns) {
    var out = [];
    columns.forEach(function(c) {
        c[1].forEach(function(y) { out.push([c[0], y]); });
    });
    return out;
}

// minus sign as in the figure, not a hyphen
function tickText(v, digits) {
    return v.toFixed(digits).replace('-', '\u2212');
}

// frame round the plot area, R style box
const framePlugin = {
    id: 'frame',
    afterDatasetsDraw: function(chart) {
        var a = chart.chartArea, c = chart.ctx;
        c.save();
        c.strokeStyle = '#777';
        c.lineWidth = 1;
        c.strokeRect(a.left, a.top, a.right - a.left, a.bottom - a.top);
        c.restore();
    }
};

// regression formula and p value in the corner of each panel
const notePlugin = {
    id: 'note',
    afterDraw: function(chart) {
        var n = chart.options.plugins.note, c = chart.ctx, a = chart.chartArea;
        var x = a.left + n.dx, y = a.top + n.dy;
        c.save();
        c.fillStyle = '#111';
        c.textBaseline = 'middle';
        c.textAlign = 'left';
        c.font = 'bold 6px "Liberation Sans"';
        c.fillText('EFC', x, y);
        x += c.measureText('EFC').width;
        c.font = 'bold 4.5px "Liberation Sans"';
        c.fillText('res', x, y + 1);
        x += c.measureText('res').width;
        c.font = 'bold 9px "Liberation Serif"';
        c.fillText(n.formula, x, y);
        x += c.measureText(n.formula).width;
        c.font = 'italic bold 9px "Liberation Serif"';
        c.fillText('mFW', x, y);

        // second line: italic P then the value
        var px = a.left + n.px, py = a.top + n.dy + 9.5;
        c.fillText('P', px, py);
        px += c.measureText('P').width;
        c.font = 'bold 9px "Liberation Serif"';
        c.fillText(n.pText, px, py);
        c.restore();
    }
};

function drawPanel(p) {
    var canvas = document.createElement('canvas');
    // 35 px for the y axis on the left, 16 for the title, 31 for the x axis
    canvas.width = 35 + 251 + 3;
    canvas.height = 16 + 219 + 31;
    canvas.style.left = (p.left - 35) + 'px';
    canvas.style.top = (p.top - 16) + 'px';
    document.getElementById('page').appendChild(canvas);

    const data = {
        datasets: [{
            data: p.points.map(function(v) { return {x: v[0], y: v[1]}; }),
            backgroundColor: '#111',
            borderWidth: 0,
            pointRadius: 1.9
        }, {
            data: p.line.map(function(v) { return {x: v[0], y: v[1]}; }),
            showLine: true,
            pointRadius: 0,
            borderColor: '#555',
            borderWidth: 1
        }]
    };
    const config = {
        type: 'scatter',
        data: data,
        options: {
            responsive: false,
            animation: false,
            devicePixelRatio: 1,
            layout: {padding: {right: 3}},
            plugins: {
                legend: {display: false},
                tooltip: {enabled: false},
                title: {
                    display: true,
                    text: p.title,
                    fullSize: false,
                    color: '#222',
                    font: {family: '"Liberation Sans"', size: 10.5, weight: 'bold'},
                    padding: {top: 0, bottom: 3.4}
                },
                note: p.note
            },
            scales: {
                x: {
                    type: 'linear',
                    min: p.xMin,
                    max: p.xMax,
                    afterBuildTicks: function(s) { s.ticks = p.xTicks.map(function(v) { return {value: v}; }); },
                    afterFit: function(s) { s.height = 31; },
                    border: {display: false},
                    grid: {drawOnChartArea: false, tickLength: 5, color: '#777'},
                    ticks: {
                        autoSkip: false,
                        maxRotation: 0,
                        padding: 4,
                        color: '#333',
                        font: {family: '"Liberation Sans"', size: 9.5},
                        callback: function(v) { return tickText(v, p.xDigits); }
                    },
                    title: {
                        display: true,
                        text: 'mFW',
                        color: '#333',
                        padding: 0,
                        font: {family: '"Liberation Sans"', size: 9}
                    }
                },
                y: {
                    type: 'linear',
                    min: p.yMin,
                    max: p.yMax,
                    afterBuildTicks: function(s) { s.ticks = p.yTicks.map(function(v) { return {value: v}; }); },
                    afterFit: function(s) { s.width = 35; },
                    border: {display: false},
                    grid: {drawOnChartArea: false, tickLength: 5, color: '#777'},
                    ticks: {
                        autoSkip: false,
                        minRotation: 90,
                        maxRotation: 90,
                        crossAlign: 'center',
                        padding: 0,
                        color: '#333',
                        font: {family: '"Liberation Sans"', size: 9.5},
                        callback: function(v) { return tickText(v, 0); }
                    },
                    title: {
                        display: true,
                        text: 'EFC (residuals)',
                        color: '#333',
                        padding: {top: 1, bottom: 0},
                        font: {family: '"Liberation Sans"', size: 9}
                    }
                }
            }
        },
        plugins: [framePlugin, notePlugin]
    };
    new Chart(canvas, config);
}

drawPanel({title: 'UH2 UCSF', left: 32, top: 14, points: uh2Points, line: uh2Line,
    xMin: .1006, xMax: .3717, yMin: -2.444, yMax: 2.035, xTicks: uh2XTicks, yTicks: yTicks2, xDigits: 2,
    note: {dx: 148, dy: 9, px: 179, formula: ' = 2.15 \u2212 9.41\u00d7', pText: ' < 0.001'}});
drawPanel({title: 'UCD ADRC', left: 342, top: 14, points: ucdPoints, line: ucdLine,
    xMin: .1309, xMax: .402, yMin: -2.312, yMax: 2.034, xTicks: ucdXTicks, yTicks: yTicks2, xDigits: 2,
    note: {dx: 149, dy: 9, px: 174, formula: ' = 0.66 \u2212 3.09\u00d7', pText: ' = 0.00503'}});
drawPanel({title: 'RUSH', left: 32, top: 293, points: rushPoints, line: rushLine,
    xMin: -.8424, xMax: -.4169, yMin: -2.225, yMax: 2.415, xTicks: rushXTicks, yTicks: yTicks2, xDigits: 1,
    note: {dx: 14, dy: 9, px: 45, formula: ' = 0.56  \u2212 2.36\u00d7', pText: ' = 0.021'}});
drawPanel({title: 'FHS', left: 342, top: 293, points: fhsPoints.concat(fhsRight, fhsLeft, fhsRim, fromColumns(fhsColumns), fromColumns(fhsFill)), line: fhsLine,
    xMin: .1124, xMax: .395, yMin: -2.595, yMax: 2.276, xTicks: fhsXTicks, yTicks: yTicks2, xDigits: 2,
    note: {dx: 147, dy: 8, px: 177, formula: ' = 0.29  \u2212 1.42\u00d7', pText: ' < 0.001'}});
drawPanel({title: 'ARIC', left: 32, top: 577, points: aricPoints.concat(aricRight, aricLeft, aricRim, fromColumns(aricColumns)), line: aricLine,
    xMin: .1483, xMax: .7204, yMin: -1.975, yMax: 2.21, xTicks: aricXTicks, yTicks: yTicks1, xDigits: 1,
    note: {dx: 146, dy: 9.5, px: 175, formula: ' = 0.21  \u2212 0.78\u00d7', pText: ' = 0.0012'}});
</script>
</body>
</html>
